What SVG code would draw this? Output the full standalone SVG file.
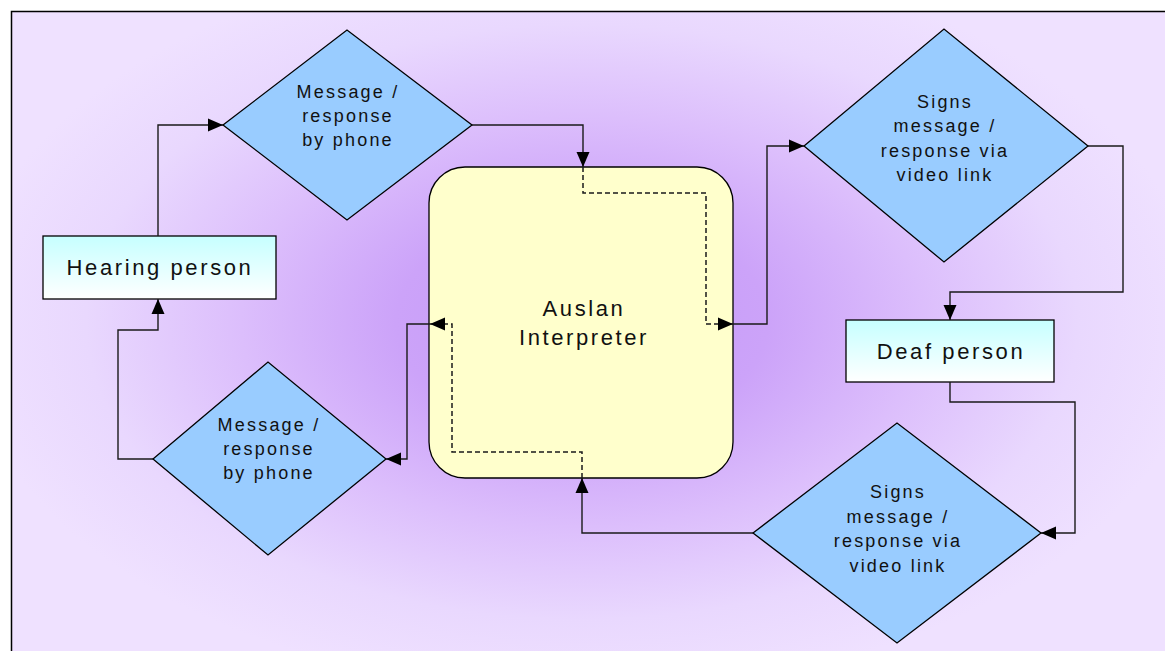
<svg xmlns="http://www.w3.org/2000/svg" width="1165" height="651" viewBox="0 0 1165 651">
<defs>
<radialGradient id="bg" gradientUnits="userSpaceOnUse" cx="582" cy="322" r="620" gradientTransform="translate(582 322) scale(1 0.6) translate(-582 -322)">
<stop offset="0" stop-color="#c499f8"/>
<stop offset="0.3" stop-color="#cca3f9"/>
<stop offset="0.55" stop-color="#dcbefc"/>
<stop offset="0.8" stop-color="#e9d8fe"/>
<stop offset="1" stop-color="#efe1ff"/>
</radialGradient>
<linearGradient id="boxg" x1="0" y1="0" x2="0" y2="1">
<stop offset="0" stop-color="#c6ffff"/>
<stop offset="1" stop-color="#ffffff"/>
</linearGradient>
<marker id="ah" markerUnits="userSpaceOnUse" markerWidth="16" markerHeight="14" refX="15" refY="7" orient="auto">
<path d="M0,0.5 L15,7 L0,13.5 z" fill="#000" stroke="none"/>
</marker>
</defs>
<style>
.dia{fill:#99ccff;stroke:#000;stroke-width:1.3}
.box{fill:url(#boxg);stroke:#000;stroke-width:1.3}
.conn{fill:none;stroke:#1a1a1a;stroke-width:1.4;marker-end:url(#ah)}
.dash{stroke-dasharray:5 3;stroke-width:1.5}
.t{font-family:"Liberation Sans",Arial,sans-serif;fill:#111;text-anchor:middle}
.td{font-size:18px;letter-spacing:2.2px}
.tb{font-size:22px;letter-spacing:2.6px}
</style>
<rect x="11.5" y="11.5" width="1170" height="660" fill="url(#bg)" stroke="#000" stroke-width="1.5"/>

<g id="auslan">
<rect x="429" y="167" width="304" height="311" rx="36" ry="36" fill="#ffffcc" stroke="#000" stroke-width="1.3"/>
<text class="t tb" x="584" y="316">Auslan</text>
<text class="t tb" x="584" y="345">Interpreter</text>
</g>

<g id="hearing">
<rect class="box" x="43" y="236" width="233" height="63"/>
<text class="t tb" x="160" y="275">Hearing person</text>
</g>

<g id="deaf">
<rect class="box" x="846" y="320" width="208" height="62"/>
<text class="t tb" x="951" y="359">Deaf person</text>
</g>

<g id="phone-top">
<polygon class="dia" points="223,125 347,30 472,125 347,220"/>
<text class="t td" x="348" y="98">Message /</text>
<text class="t td" x="348" y="122">response</text>
<text class="t td" x="348" y="146">by phone</text>
</g>

<g id="phone-bottom">
<polygon class="dia" points="153,459 268,362 386,459 268,555"/>
<text class="t td" x="269" y="431">Message /</text>
<text class="t td" x="269" y="455">response</text>
<text class="t td" x="269" y="479">by phone</text>
</g>

<g id="video-top">
<polygon class="dia" points="804,146 944,29 1088,146 944,262"/>
<text class="t td" x="945" y="108">Signs</text>
<text class="t td" x="945" y="132">message /</text>
<text class="t td" x="945" y="157">response via</text>
<text class="t td" x="945" y="181">video link</text>
</g>

<g id="video-bottom">
<polygon class="dia" points="753,533 897,423 1041,533 897,643"/>
<text class="t td" x="898" y="498">Signs</text>
<text class="t td" x="898" y="523">message /</text>
<text class="t td" x="898" y="547">response via</text>
<text class="t td" x="898" y="572">video link</text>
</g>

<g id="connectors">
<path class="conn" d="M158,236 V125 H223"/>
<path class="conn" d="M472,125 H583 V167"/>
<path class="conn dash" d="M583,167 V193 H706 V324 H733"/>
<path class="conn" d="M733,324 H767 V146 H804"/>
<path class="conn" d="M1088,146 H1123 V292 H950 V320"/>
<path class="conn" d="M950,382 V402 H1075 V533 H1041"/>
<path class="conn" d="M753,533 H582 V478"/>
<path class="conn dash" d="M582,478 V452 H452 V324 H430"/>
<path class="conn" d="M430,324 H407 V459 H386"/>
<path class="conn" d="M153,459 H118 V330 H158 V299"/>
</g>
</svg>
